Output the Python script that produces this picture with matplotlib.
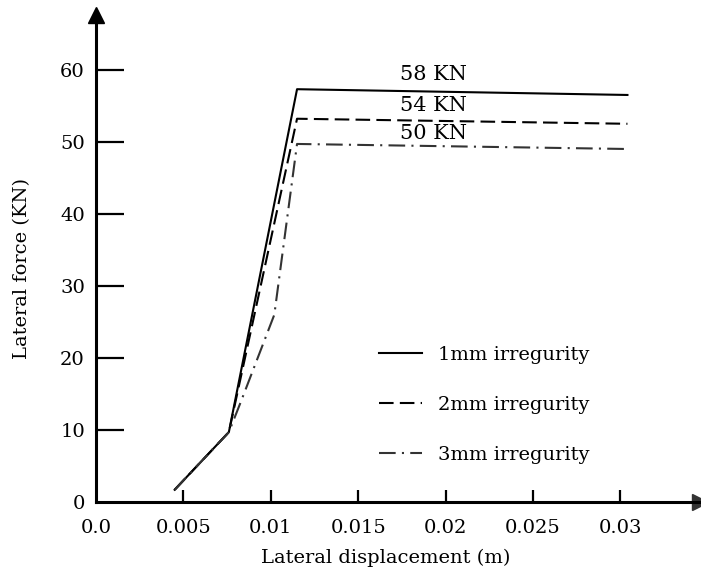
import matplotlib
matplotlib.use("Agg")
import matplotlib.pyplot as plt

# data
disp_1mm = [0.0045, 0.0076, 0.0115, 0.0304]
force_1mm = [1.7, 9.7, 57.3, 56.5]
disp_2mm = [0.0045, 0.0076, 0.0115, 0.0304]
force_2mm = [1.7, 9.7, 53.2, 52.5]
disp_3mm = [0.0045, 0.0076, 0.0083, 0.0102, 0.0115, 0.0304]
force_3mm = [1.7, 9.7, 14.0, 26.0, 49.7, 49.0]

peak_labels = ["58 KN", "54 KN", "50 KN"]
peak_label_y = [59.3, 55.0, 51.2]
legend_labels = ["1mm irregurity", "2mm irregurity", "3mm irregurity"]

xticks = [0.0, 0.005, 0.01, 0.015, 0.02, 0.025, 0.03]
xticklabels = ["0.0", "0.005", "0.01", "0.015", "0.02", "0.025", "0.03"]
yticks = [0, 10, 20, 30, 40, 50, 60]

plt.rcParams['font.family'] = ['DejaVu Serif']

fig = plt.figure(figsize=(7.01, 5.73), dpi=100)
# axes box: origin at pixel (96, 502), top at y=15, right at x=700
ax = fig.add_axes([96 / 701, (573 - 502) / 573, (700 - 96) / 701, (502 - 15) / 573])

ax.plot(disp_1mm, force_1mm, color='black', lw=1.5, ls='-', label=legend_labels[0])
ax.plot(disp_2mm, force_2mm, color='black', lw=1.5, ls=(0, (7, 3)), label=legend_labels[1])
ax.plot(disp_3mm, force_3mm, color='#333333', lw=1.5, ls=(0, (8, 3, 1, 3)), label=legend_labels[2])

for lab, yy in zip(peak_labels, peak_label_y):
    ax.text(0.0174, yy, lab, fontsize=15, ha='left', va='center')

ax.set_xlim(0, 0.03455)
ax.set_ylim(0, 67.6)

for s in ['top', 'right']:
    ax.spines[s].set_visible(False)
for s in ['left', 'bottom']:
    ax.spines[s].set_linewidth(2.2)

# arrow heads at the ends of both axes
ax.plot(0, 1, '^', color='black', ms=11, transform=ax.transAxes, clip_on=False)
ax.plot(1, 0, '>', color='#333333', ms=11, transform=ax.transAxes, clip_on=False)

ax.set_xticks(xticks)
ax.set_xticklabels(xticklabels)
ax.set_yticks(yticks)
ax.tick_params(axis='x', direction='in', length=9, width=1.6, pad=12, labelsize=14)
ax.tick_params(axis='y', direction='in', length=20, width=1.6, pad=8, labelsize=14)
ax.xaxis.get_major_ticks()[0].tick1line.set_visible(False)
ax.yaxis.get_major_ticks()[0].tick1line.set_visible(False)

ax.set_xlabel("Lateral displacement (m)", fontsize=14)
ax.set_ylabel("Lateral force (KN)", fontsize=14)
ax.xaxis.set_label_coords(0.48, -0.095)
ax.yaxis.set_label_coords(-0.108, 0.48)

ax.legend(loc='upper left', bbox_to_anchor=(0.44, 0.357), frameon=False,
          fontsize=14, handlelength=2.2, labelspacing=1.65, handletextpad=0.8)

fig.savefig("out.png", dpi=100)
